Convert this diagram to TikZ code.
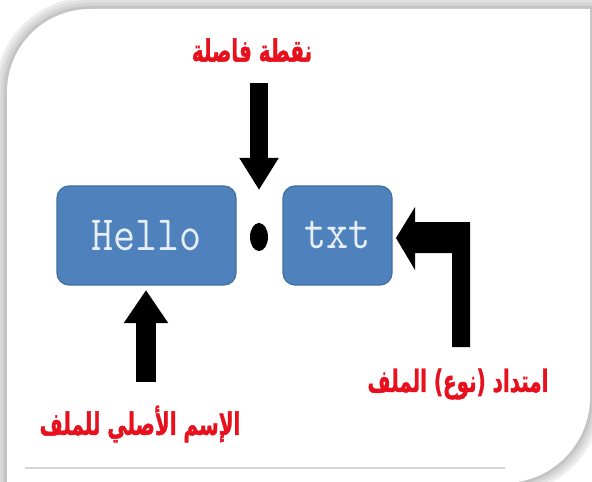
\documentclass[tikz,border=0pt]{standalone}
\usepackage{fontspec}
\usetikzlibrary{arrows.meta,shapes.geometric}
\TeXXeTstate=1
\newfontfamily\arabicfont[Script=Arabic,FakeBold=1.5]{DejaVu Sans Bold}
\definecolor{boxblue}{HTML}{4F81BD}
\definecolor{boxedge}{HTML}{41719C}
\definecolor{labelred}{HTML}{E8101C}
\definecolor{boxtext}{HTML}{E6EEF7}
\definecolor{rulegray}{HTML}{D4D4D4}
\tikzset{
  filebox/.style={draw=boxedge, line width=1.2bp, fill=boxblue, rounded corners=12bp,
    inner sep=0pt, text=boxtext, font=\ttfamily\fontsize{43}{45}\selectfont},
  lbl/.style={text=labelred, inner sep=0pt, font=\arabicfont\fontsize{20}{24}\selectfont},
  blockarrow/.style={line width=18bp, draw=black, -{Triangle[width=37bp,length=32bp]}},
  blockarrowb/.style={line width=20bp, draw=black, -{Triangle[width=42bp,length=33bp]}},
}
\begin{document}
\begin{tikzpicture}[x=1bp,y=-1bp]
\useasboundingbox (0,0) rectangle (592,482);
\clip (0,0) rectangle (592,482);
\fill[white] (0,0) rectangle (592,482);
% panel with soft shadow
\def\panelpath{(7,560) -- (7,92) arc (180:270:83) -- (590,9) -- (590,397) arc (0:90:86) -- (504,560) -- cycle}
\draw[line width=24bp, black!7] \panelpath;
\draw[line width=18bp, black!12] \panelpath;
\draw[line width=12bp, black!17] \panelpath;
\draw[line width=6bp, black!23] \panelpath;
\fill[white] \panelpath;
\draw[rulegray, line width=1.5bp] (25,468) -- (505,468);

% boxes
\node[filebox, minimum width=179bp, minimum height=99bp] (hello) at (146.5,235.5)
  {\scalebox{1}[1.15]{Hello}};
\node[filebox, minimum width=109bp, minimum height=99bp] (txt) at (337.5,235.5)
  {\scalebox{1}[1.15]{txt}};
\node[ellipse, fill=black, inner sep=0pt, minimum width=18bp, minimum height=28bp] (dot) at (259,237) {};

% labels
\node[lbl] (seplbl) at (252,50) {\scalebox{1}[1.55]{\beginR نقطة فاصلة\endR}};
\node[lbl] (namelbl) at (140,424) {\scalebox{1}[1.55]{\beginR الإسم الأصلي للملف\endR}};
\node[lbl] (extlbl) at (458,384) {\scalebox{1}[1.55]{\beginR امتداد (نوع) الملف\endR}};

% arrows
\coordinate (a1s) at (259,83);
\coordinate (a1t) at (259,190);
\draw[blockarrow] (a1s) -- (a1t);
\coordinate (a2s) at (146,382);
\coordinate (a2t) at (146,290);
\draw[blockarrowb] (a2s) -- (a2t);
\coordinate (a3t) at (396,238);
\fill[black] (a3t) -- (415,207) -- (415,222) -- (470,222) -- (470,347) -- (452,347)
  -- (452,253) -- (415,253) -- (415,270) -- cycle;
\end{tikzpicture}
\end{document}
